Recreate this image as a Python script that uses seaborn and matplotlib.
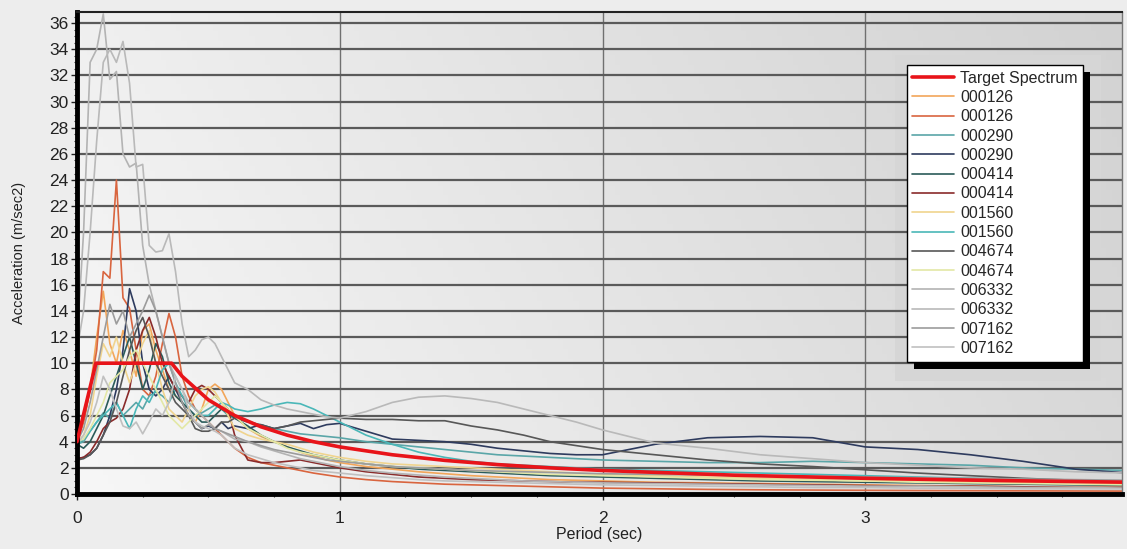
import numpy as np
import pandas as pd
import matplotlib
matplotlib.use("Agg")
import matplotlib.pyplot as plt
from matplotlib.colors import LinearSegmentedColormap
from matplotlib.patches import Rectangle
from matplotlib.ticker import MultipleLocator
import seaborn as sns

sns.set_style("white")
plt.rcParams["font.family"] = ["Liberation Sans", "DejaVu Sans"]

# periods (sec) shared by all records
periods = [0.0, 0.025, 0.05, 0.075, 0.1, 0.125, 0.15, 0.175, 0.2, 0.225, 0.25, 0.275, 0.3,
           0.325, 0.35, 0.375, 0.4, 0.425, 0.45, 0.475, 0.5, 0.525, 0.55, 0.575, 0.6,
           0.65, 0.7, 0.75, 0.8, 0.85, 0.9, 0.95, 1.0,
           1.1, 1.2, 1.3, 1.4, 1.5, 1.6, 1.7, 1.8, 1.9, 2.0,
           2.2, 2.4, 2.6, 2.8, 3.0, 3.2, 3.4, 3.6, 3.8, 4.0]

# target design spectrum
target_periods = [0.0, 0.072, 0.36, 0.4, 0.5, 0.6, 0.7, 0.8, 0.9, 1.0, 1.2, 1.4, 1.6, 1.8,
                  2.0, 2.5, 3.0, 3.5, 4.0]
target_accel = [4.0, 10.0, 10.0, 9.0, 7.2, 6.0, 5.14, 4.5, 4.0, 3.6, 3.0, 2.57, 2.25, 2.0,
                1.8, 1.44, 1.2, 1.03, 0.9]

rec_000126_a = [4.0, 5.5, 8.0, 12.0, 15.5, 11.5, 10.0, 12.5, 11.0, 9.0, 12.5, 13.0, 11.0,
                9.5, 8.0, 7.5, 7.0, 6.0, 5.5, 6.5, 8.0, 8.4, 8.0, 7.0, 6.0,
                5.0, 4.4, 4.0, 3.6, 3.2, 2.9, 2.6, 2.4,
                2.1, 1.9, 1.7, 1.55, 1.4, 1.3, 1.2, 1.1, 1.05, 1.0,
                0.9, 0.85, 0.8, 0.75, 0.7, 0.65, 0.6, 0.55, 0.5, 0.5]
rec_000126_b = [4.0, 5.5, 8.0, 11.0, 17.0, 16.5, 24.0, 15.0, 14.2, 11.0, 8.0, 7.5, 9.0,
                11.5, 13.8, 12.0, 9.0, 7.5, 6.5, 6.0, 5.5, 5.0, 4.5, 4.0, 3.5,
                2.8, 2.4, 2.2, 2.0, 1.8, 1.6, 1.45, 1.3,
                1.1, 0.95, 0.85, 0.75, 0.7, 0.65, 0.6, 0.55, 0.5, 0.45,
                0.4, 0.35, 0.32, 0.3, 0.28, 0.26, 0.25, 0.24, 0.23, 0.22]
rec_000290_a = [3.8, 4.0, 4.8, 5.5, 6.2, 5.8, 7.0, 6.0, 6.5, 7.0, 6.5, 7.5, 7.8,
                7.5, 7.0, 8.0, 7.5, 6.5, 6.0, 6.2, 6.5, 6.8, 6.5, 6.0, 5.8,
                5.6, 5.2, 5.0, 4.8, 4.6, 4.5, 4.4, 4.3,
                4.0, 3.8, 3.6, 3.4, 3.2, 3.0, 2.9, 2.8, 2.7, 2.6,
                2.5, 2.4, 2.4, 2.5, 2.4, 2.3, 2.2, 2.0, 1.9, 1.8]
rec_000290_b = [2.7, 2.8, 3.0, 3.5, 4.5, 6.0, 8.0, 11.0, 15.7, 14.0, 10.0, 8.0, 7.5,
                8.0, 9.0, 8.0, 7.0, 6.0, 5.5, 5.0, 5.2, 5.0, 5.5, 5.0, 5.2,
                5.0, 5.3, 5.0, 5.2, 5.4, 5.0, 5.3, 5.4,
                4.8, 4.2, 4.1, 4.0, 3.8, 3.5, 3.3, 3.1, 3.0, 3.0,
                3.8, 4.3, 4.4, 4.3, 3.6, 3.4, 3.0, 2.5, 1.9, 1.6]
rec_000414_a = [3.8, 3.5, 4.0, 5.0, 6.0, 7.5, 9.0, 10.5, 12.0, 10.0, 8.0, 9.5, 11.5,
                10.5, 8.5, 7.5, 7.0, 6.5, 6.0, 5.5, 5.5, 6.0, 6.5, 6.2, 5.8,
                5.2, 4.5, 4.0, 3.6, 3.3, 3.0, 2.8, 2.6,
                2.3, 2.1, 1.9, 1.8, 1.7, 1.6, 1.5, 1.4, 1.35, 1.3,
                1.2, 1.1, 1.0, 0.95, 0.9, 0.85, 0.8, 0.75, 0.7, 0.65]
rec_000414_b = [2.7, 2.8, 3.2, 4.0, 5.0, 5.5, 5.8, 6.5, 8.0, 11.0, 12.5, 13.5, 12.0,
                10.0, 9.0, 8.0, 7.5, 7.0, 8.0, 8.3, 8.0, 7.5, 7.0, 6.5, 4.5,
                2.6, 2.4, 2.4, 2.5, 2.6, 2.4, 2.2, 2.0,
                1.7, 1.5, 1.3, 1.2, 1.1, 1.05, 1.0, 0.95, 0.9, 0.9,
                0.85, 0.8, 0.75, 0.7, 0.65, 0.6, 0.6, 0.55, 0.5, 0.5]
rec_001560_a = [4.0, 4.5, 6.0, 9.0, 11.5, 10.5, 12.0, 10.0, 8.5, 10.0, 11.5, 12.5, 10.0,
                8.0, 6.5, 6.0, 5.5, 6.5, 7.5, 8.0, 8.2, 7.8, 7.0, 6.0, 5.0,
                4.5, 4.2, 4.0, 3.8, 3.5, 3.2, 3.0, 2.8,
                2.5, 2.3, 2.2, 2.1, 2.0, 1.9, 1.8, 1.7, 1.6, 1.5,
                1.4, 1.3, 1.2, 1.1, 1.0, 1.0, 0.95, 0.9, 0.85, 0.8]
rec_001560_b = [3.8, 4.2, 4.8, 5.5, 6.0, 6.5, 7.0, 6.0, 5.0, 6.5, 7.5, 7.0, 8.0,
                9.5, 10.0, 8.5, 7.5, 7.0, 6.5, 6.0, 6.0, 6.5, 7.0, 6.8, 6.5,
                6.3, 6.5, 6.8, 7.0, 6.9, 6.5, 6.0, 5.5,
                4.5, 3.8, 3.2, 2.8, 2.5, 2.3, 2.2, 2.1, 2.0, 1.9,
                1.8, 1.7, 1.6, 1.5, 1.4, 1.3, 1.2, 1.1, 1.0, 1.0]
rec_004674_a = [2.6, 2.7, 3.0, 3.5, 4.5, 5.5, 7.0, 9.0, 11.0, 12.5, 13.5, 12.0, 10.0,
                9.0, 8.0, 7.0, 6.5, 6.0, 5.0, 4.8, 4.8, 5.0, 5.5, 5.5, 5.8,
                5.5, 5.3, 5.0, 5.2, 5.5, 5.6, 5.7, 5.8,
                5.7, 5.7, 5.6, 5.6, 5.2, 4.9, 4.5, 4.0, 3.7, 3.4,
                3.0, 2.6, 2.3, 2.1, 1.85, 1.6, 1.4, 1.2, 1.05, 0.95]
rec_004674_b = [4.0, 4.2, 5.0, 6.0, 7.0, 8.5, 9.0, 9.5, 10.5, 11.0, 10.0, 9.0, 8.0,
                7.0, 6.0, 5.5, 5.0, 5.5, 6.0, 6.5, 7.0, 7.5, 7.0, 6.5, 6.0,
                5.0, 4.5, 4.0, 3.5, 3.2, 3.0, 2.8, 2.6,
                2.3, 2.1, 2.0, 1.9, 1.8, 1.7, 1.6, 1.5, 1.45, 1.4,
                1.3, 1.2, 1.1, 1.05, 1.0, 0.9, 0.85, 0.8, 0.75, 0.7]
rec_006332_a = [11.8, 20.0, 33.0, 34.0, 36.7, 31.7, 32.3, 26.0, 25.0, 25.3, 19.0, 16.0, 14.0,
                12.0, 10.0, 9.0, 8.0, 7.0, 6.5, 6.0, 5.5, 5.0, 4.8, 4.5, 4.2,
                4.0, 3.6, 3.3, 3.0, 2.7, 2.5, 2.3, 2.1,
                1.8, 1.6, 1.45, 1.3, 1.2, 1.1, 1.0, 0.95, 0.9, 0.85,
                0.8, 0.75, 0.7, 0.65, 0.6, 0.6, 0.55, 0.5, 0.5, 0.45]
rec_006332_b = [11.0, 14.0, 20.0, 27.0, 33.0, 34.0, 33.0, 34.6, 31.4, 25.0, 25.2, 19.0, 18.5,
                18.6, 19.9, 17.0, 13.0, 10.5, 11.0, 11.8, 12.0, 11.5, 10.5, 9.5, 8.5,
                8.0, 7.2, 6.8, 6.5, 6.3, 6.1, 5.9, 5.8,
                6.3, 7.0, 7.4, 7.5, 7.3, 7.0, 6.5, 6.0, 5.5, 4.9,
                3.9, 3.5, 3.0, 2.7, 2.4, 2.2, 2.0, 1.9, 1.7, 1.6]
rec_007162_a = [4.0, 5.0, 7.0, 9.5, 12.0, 14.5, 13.0, 14.0, 12.0, 13.0, 14.0, 15.2, 14.0,
                12.0, 10.0, 8.5, 7.0, 6.0, 5.5, 5.0, 5.3, 5.0, 4.8, 4.6, 4.4,
                4.0, 3.7, 3.4, 3.2, 3.0, 2.8, 2.6, 2.5,
                2.3, 2.1, 2.0, 1.9, 1.8, 1.75, 1.7, 1.65, 1.6, 1.55,
                1.5, 1.45, 1.4, 1.35, 1.3, 1.25, 1.2, 1.15, 1.1, 1.05]
rec_007162_b = [3.8, 4.5, 5.5, 7.0, 9.0, 8.0, 6.5, 5.2, 5.0, 5.5, 4.6, 5.5, 6.5,
                6.0, 7.0, 9.0, 8.0, 6.5, 5.5, 5.2, 5.0, 4.8, 4.5, 4.0, 3.5,
                3.0, 2.7, 2.4, 2.2, 2.0, 1.8, 1.7, 1.6,
                1.4, 1.25, 1.1, 1.0, 0.95, 0.9, 0.85, 0.8, 0.75, 0.7,
                0.65, 0.6, 0.55, 0.5, 0.5, 0.45, 0.45, 0.4, 0.4, 0.4]

record_labels = ["000126", "000126", "000290", "000290", "000414", "000414", "001560",
                 "001560", "004674", "004674", "006332", "006332", "007162", "007162"]
record_values = [rec_000126_a, rec_000126_b, rec_000290_a, rec_000290_b, rec_000414_a,
                 rec_000414_b, rec_001560_a, rec_001560_b, rec_004674_a, rec_004674_b,
                 rec_006332_a, rec_006332_b, rec_007162_a, rec_007162_b]
record_colors = ["#f2a65a", "#d9653f", "#5aa6a8", "#2e3b5e", "#2b5b59", "#8a2b2b",
                 "#f0d48e", "#4ab7b8", "#575757", "#e3e8a6", "#b3b3b3", "#b9b9b9",
                 "#9c9c9c", "#c0c0c0"]

fig = plt.figure(figsize=(11.27, 5.49), dpi=100, facecolor="#ededed")
ax = fig.add_axes([77 / 1127, 55 / 549, 1045 / 1127, 482 / 549])

# background gradient of plot area
cmap_bg = LinearSegmentedColormap.from_list("bg", ["#f7f7f7", "#d2d2d2"])
gx, gy = np.meshgrid(np.linspace(0, 1, 200), np.linspace(0, 1, 100))
grad = 0.8 * gx + 0.2 * (1 - gy)
ax.imshow(grad, cmap=cmap_bg, extent=[0, 1, 0, 1], transform=ax.transAxes,
          aspect="auto", origin="upper", zorder=-2)
ax.add_patch(Rectangle((0.783, 0.235), 0.197, 0.675, transform=ax.transAxes,
                       facecolor="#d6d6d6", edgecolor="none", zorder=-1))

handles = []
for lab, vals, col in zip(record_labels, record_values, record_colors):
    df = pd.DataFrame({"period": periods, "accel": vals})
    sns.lineplot(data=df, x="period", y="accel", ax=ax, color=col, lw=1.2, zorder=2)
    handles.append(ax.lines[-1])

tdf = pd.DataFrame({"period": target_periods, "accel": target_accel})
sns.lineplot(data=tdf, x="period", y="accel", ax=ax, color="#e8141a", lw=2.6, zorder=3)
target_line = ax.lines[-1]

ax.set_xlim(0, 3.977)
ax.set_ylim(0, 36.85)
ax.xaxis.set_major_locator(MultipleLocator(1))
ax.xaxis.set_minor_locator(MultipleLocator(0.25))
ax.yaxis.set_major_locator(MultipleLocator(2))
ax.yaxis.set_minor_locator(MultipleLocator(0.5))
ax.tick_params(axis="y", which="major", direction="out", length=4, width=1,
               labelsize=12.5, colors="#222222", left=True, pad=2)
ax.tick_params(axis="x", which="major", direction="out", length=4, width=1,
               labelsize=12.5, colors="#222222", bottom=True, pad=8)
ax.tick_params(axis="both", which="minor", direction="out", length=2.5, width=0.8,
               left=True, bottom=True, colors="#333333")

ax.set_axisbelow(True)
ax.grid(axis="y", which="major", color="#5a5a5a", lw=1.6)
ax.grid(axis="x", which="major", color="#707070", lw=1.0)

for side in ["left", "bottom"]:
    ax.spines[side].set_color("black")
    ax.spines[side].set_linewidth(3.5)
ax.spines["top"].set_color("#222222")
ax.spines["top"].set_linewidth(1.5)
ax.spines["right"].set_color("#777777")
ax.spines["right"].set_linewidth(1.0)

ax.set_xlabel("Period (sec)", fontsize=11.5, color="#222222", labelpad=1)
ax.set_ylabel("Acceleration (m/sec2)", fontsize=10.5, color="#222222", labelpad=17)

leg = ax.legend([target_line] + handles, ["Target Spectrum"] + record_labels,
                loc="upper left", bbox_to_anchor=(0.794, 0.89), fontsize=11.5,
                frameon=True, fancybox=False, shadow=False, borderpad=0.35,
                labelspacing=0.27, handlelength=2.6, handletextpad=0.4,
                borderaxespad=0)
leg.get_frame().set_edgecolor("black")
leg.get_frame().set_linewidth(1.0)
leg.get_frame().set_facecolor("white")
leg.get_frame().set_alpha(1)
leg.set_zorder(6)

# black drop shadow behind the legend box
fig.canvas.draw()
bb = leg.get_window_extent()
shadow = Rectangle((bb.x0 + 7, bb.y0 - 7), bb.width, bb.height, transform=None,
                   facecolor="black", edgecolor="none", zorder=5)
ax.add_artist(shadow)

fig.savefig("out.png", dpi=100, facecolor=fig.get_facecolor())
